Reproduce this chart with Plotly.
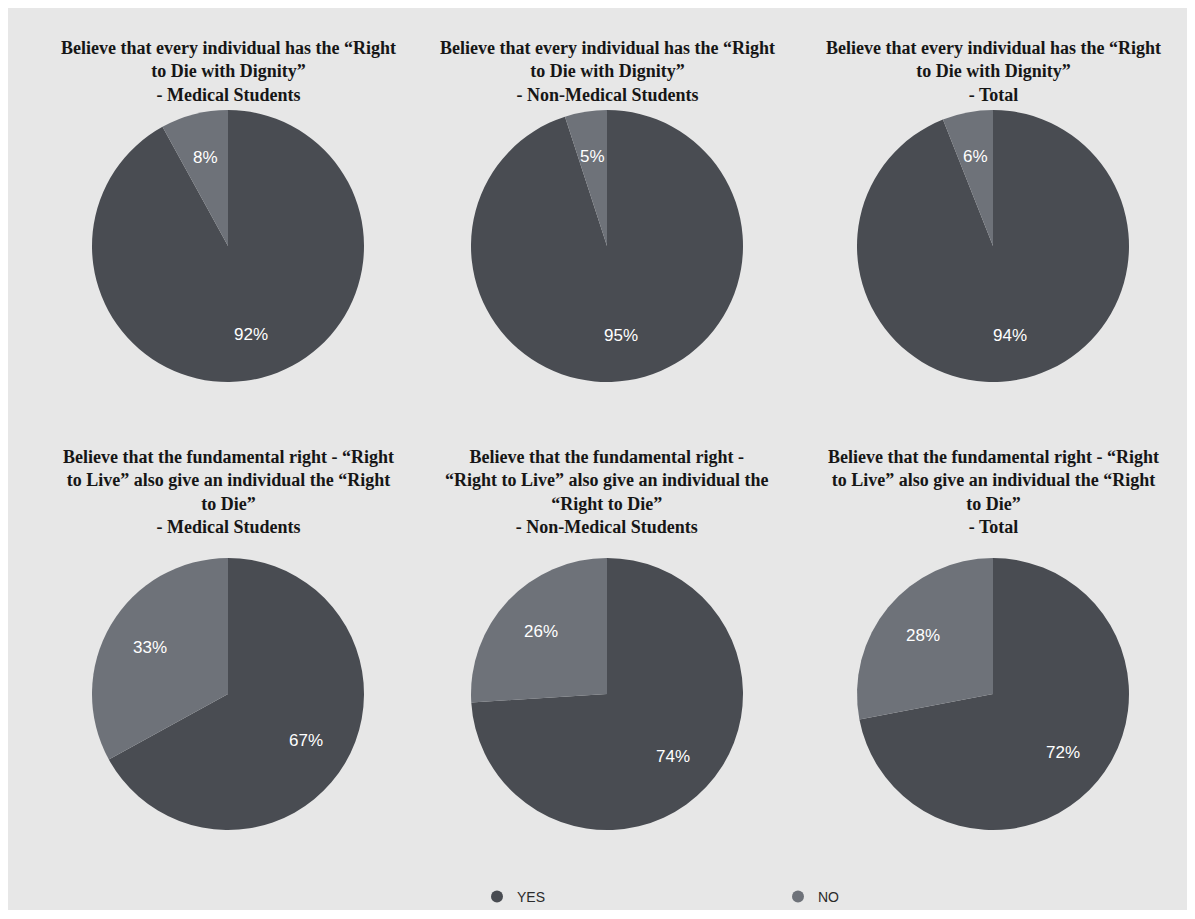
import math
import plotly.graph_objects as go

# ---------------- data ----------------
categories = ["YES", "NO"]
dignity_medical = [92, 8]
dignity_non_medical = [95, 5]
dignity_total = [94, 6]
live_medical = [67, 33]
live_non_medical = [74, 26]
live_total = [72, 28]

title_dignity_medical = "Believe that every individual has the “Right<br>to Die with Dignity”<br>- Medical Students"
title_dignity_non_medical = "Believe that every individual has the “Right<br>to Die with Dignity”<br>- Non-Medical Students"
title_dignity_total = "Believe that every individual has the “Right<br>to Die with Dignity”<br>- Total"
title_live_medical = "Believe that the fundamental right - “Right<br>to Live” also give an individual the “Right<br>to Die”<br>- Medical Students"
title_live_non_medical = "Believe that the fundamental right -<br>“Right to Live” also give an individual the<br>“Right to Die”<br>- Non-Medical Students"
title_live_total = "Believe that the fundamental right - “Right<br>to Live” also give an individual the “Right<br>to Die”<br>- Total"

# ---------------- styling / layout ----------------
colors = ["#494c52", "#6e7279"]
bg = "#e7e7e7"
FIG_W, FIG_H, PAGE_OFF = 1195, 902, 8
COL_X = [228, 607, 993]
ROW_Y = [246, 694]
R = 136
LABEL_R = 0.67
TITLE_MID_Y = [72, 492]


def px_x(X):
    return (X - PAGE_OFF) / FIG_W


def px_y(Y):
    return 1 - (Y - PAGE_OFF) / FIG_H


panels = [
    (dignity_medical, title_dignity_medical, 0, 0),
    (dignity_non_medical, title_dignity_non_medical, 0, 1),
    (dignity_total, title_dignity_total, 0, 2),
    (live_medical, title_live_medical, 1, 0),
    (live_non_medical, title_live_non_medical, 1, 1),
    (live_total, title_live_total, 1, 2),
]

fig = go.Figure()
annotations = []

for values, title, row, col in panels:
    cx, cy = COL_X[col], ROW_Y[row]
    fig.add_trace(go.Pie(
        labels=categories,
        values=values,
        sort=False,
        direction="clockwise",
        rotation=0,
        textinfo="none",
        marker=dict(colors=colors, line=dict(width=0)),
        showlegend=False,
        domain=dict(x=[px_x(cx - R), px_x(cx + R)], y=[px_y(cy + R), px_y(cy - R)]),
        hovertemplate="%{label}: %{value}%<extra></extra>",
    ))
    total = sum(values)
    start = 0.0
    for v in values:
        mid = (start + v / 2) / total
        theta = 2 * math.pi * mid
        lx = cx + LABEL_R * R * math.sin(theta)
        ly = cy - LABEL_R * R * math.cos(theta)
        annotations.append(dict(
            x=px_x(lx), y=px_y(ly), xref="paper", yref="paper",
            text=f"{v}%", showarrow=False,
            xanchor="center", yanchor="middle",
            font=dict(family="Liberation Sans, Arial, sans-serif", size=17, color="white"),
        ))
        start += v
    annotations.append(dict(
        x=px_x(cx), y=px_y(TITLE_MID_Y[row]), xref="paper", yref="paper",
        text=f"<b>{title}</b>", showarrow=False, align="center",
        xanchor="center", yanchor="middle",
        font=dict(family="Liberation Serif, Times New Roman, serif", size=18, color="#161616"),
    ))

# legend entries (circle markers)
for cat, c in zip(categories, colors):
    fig.add_trace(go.Scatter(
        x=[None], y=[None], mode="markers", name=cat,
        marker=dict(symbol="circle", size=12, color=c),
    ))

fig.update_layout(
    width=FIG_W, height=FIG_H,
    margin=dict(l=0, r=0, t=0, b=0, autoexpand=False),
    paper_bgcolor=bg, plot_bgcolor=bg,
    xaxis=dict(visible=False), yaxis=dict(visible=False),
    annotations=annotations,
    showlegend=True,
    legend=dict(
        orientation="h",
        x=px_x(477), xanchor="left",
        y=px_y(897), yanchor="middle",
        entrywidth=256, entrywidthmode="pixels",
        font=dict(family="Liberation Sans, Arial, sans-serif", size=14, color="#2b2b2b"),
        bgcolor="rgba(0,0,0,0)",
    ),
)

fig.write_html("out.html")
